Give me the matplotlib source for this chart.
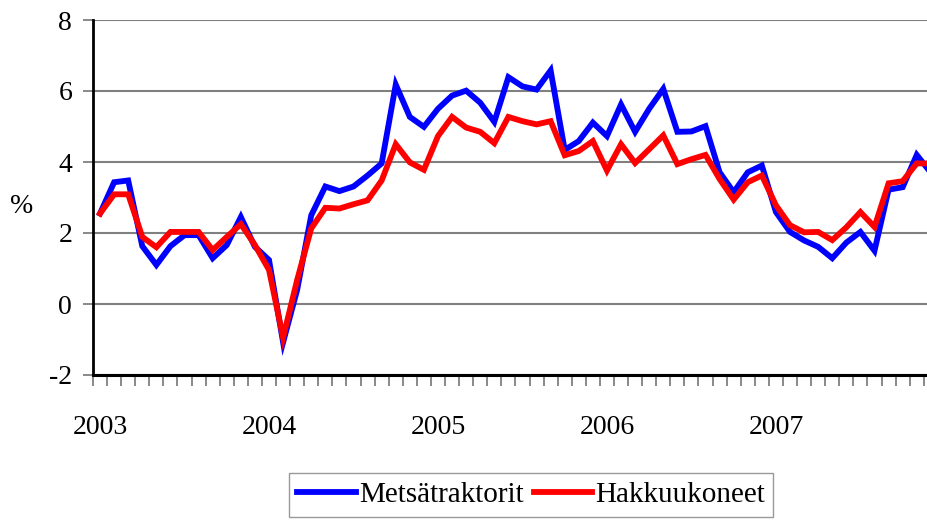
import matplotlib.pyplot as plt
from matplotlib.ticker import FixedLocator

plt.rcParams['font.family'] = ['Liberation Serif', 'DejaVu Serif']

# Monthly change, %, Jan 2003 - Dec 2007
metsatraktorit = [2.55, 3.43, 3.48, 1.63, 1.10, 1.63, 1.94, 1.94, 1.29, 1.66, 2.45, 1.61,
                  1.24, -1.08, 0.40, 2.50, 3.31, 3.18, 3.31, 3.62, 3.96, 6.18, 5.27, 4.99,
                  5.50, 5.87, 6.01, 5.67, 5.13, 6.39, 6.13, 6.04, 6.58, 4.34, 4.59, 5.11,
                  4.73, 5.62, 4.85, 5.50, 6.06, 4.85, 4.86, 5.01, 3.71, 3.15, 3.71, 3.90,
                  2.59, 2.03, 1.79, 1.61, 1.29, 1.73, 2.03, 1.50, 3.22, 3.29, 4.20, 3.70]
hakkuukoneet = [2.55, 3.09, 3.09, 1.89, 1.60, 2.03, 2.03, 2.03, 1.52, 1.89, 2.25, 1.66,
                0.96, -0.95, 0.68, 2.13, 2.71, 2.69, 2.81, 2.92, 3.48, 4.50, 3.99, 3.78,
                4.73, 5.27, 4.97, 4.85, 4.53, 5.27, 5.15, 5.06, 5.15, 4.19, 4.31, 4.59,
                3.76, 4.50, 3.97, 4.36, 4.75, 3.94, 4.08, 4.20, 3.52, 2.94, 3.43, 3.62,
                2.78, 2.22, 2.02, 2.03, 1.80, 2.16, 2.59, 2.17, 3.40, 3.46, 3.96, 3.96]
years = ['2003', '2004', '2005', '2006', '2007']

months = list(range(len(metsatraktorit)))

fig = plt.figure(figsize=(9.28, 5.2), dpi=100)
ax = fig.add_axes([93 / 928, 145 / 520, 835 / 928, 355 / 520])

ax.plot(months, metsatraktorit, color='#0000FF', lw=4.2, solid_joinstyle='miter',
        label='Metsätraktorit')
ax.plot(months, hakkuukoneet, color='#FF0000', lw=4.2, solid_joinstyle='miter',
        label='Hakkuukoneet')

ax.set_xlim(-0.5, 58.8)
ax.set_ylim(-2, 8)
ax.set_yticks([-2, 0, 2, 4, 6, 8])
ax.set_yticklabels(['-2', '0', '2', '4', '6', '8'], fontsize=20)
ax.grid(axis='y', color='#808080', lw=1.5)
ax.set_axisbelow(True)

# year labels under January, month ticks between months
ax.set_xticks([12 * k for k in range(len(years))])
ax.set_xticklabels(years, fontsize=20)
ax.xaxis.set_minor_locator(FixedLocator([k - 0.5 for k in range(61)]))
ax.tick_params(axis='x', which='major', length=0, pad=29)
ax.tick_params(axis='x', which='minor', length=8, width=1.3, color='#808080', direction='out')
ax.tick_params(axis='y', length=7, width=1.3, color='#808080', pad=8)

for side in ['top', 'right']:
    ax.spines[side].set_visible(False)
ax.spines['left'].set_linewidth(2)
ax.spines['bottom'].set_linewidth(2.2)

fig.text(22 / 928, 1 - 207 / 520, '%', fontsize=20, ha='center', va='center')

fig.legend(loc='upper center', bbox_to_anchor=(531 / 928, 1 - 473 / 520), ncol=2,
           fontsize=21, frameon=True, fancybox=False, edgecolor='#808080',
           handlelength=2.0, handletextpad=0.1, columnspacing=0.35,
           borderpad=0.3, borderaxespad=0)

plt.savefig('out.png', dpi=100)
